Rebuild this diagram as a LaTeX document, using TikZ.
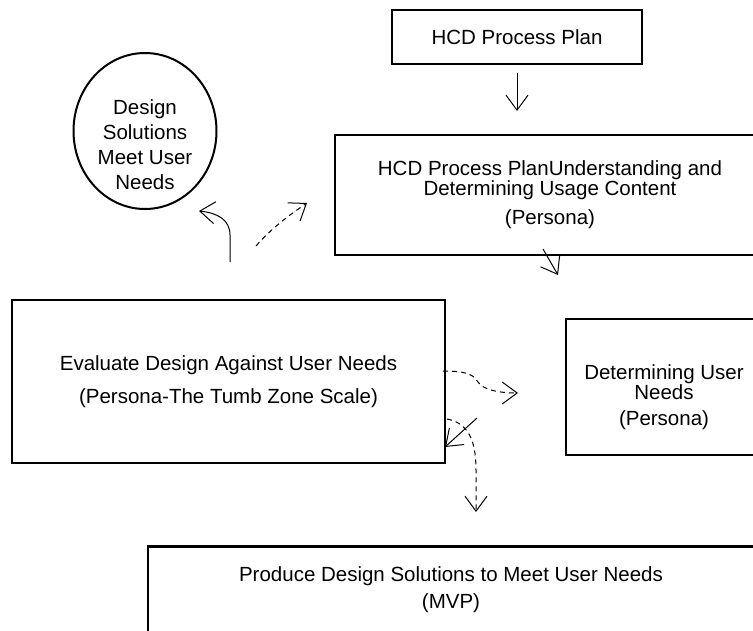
\documentclass[tikz,border=0pt]{standalone}
\usepackage{fontspec}
\setmainfont{Liberation Sans}
\usetikzlibrary{arrows.meta,calc,positioning,shapes.geometric}
\tikzset{
    box/.style={draw, line width=2.5pt, rectangle, align=center,
        font=\fontsize{20.5}{20}\selectfont}, % process boxes
    goal/.style={draw, line width=2pt, ellipse}, % end state
    label text/.style={align=center, font=\fontsize{20.5}{20}\selectfont},
    flow/.style={line width=1pt, -{Straight Barb[length=15pt,width=22pt]}},
    dflow/.style={flow, dash pattern=on 5pt off 4pt},
}

\begin{document}
\begin{tikzpicture}[x=1pt,y=-1pt]
        \useasboundingbox (0,0) rectangle (753,630);
        \clip (0,0) rectangle (753,630);
        % boxes
        \node[box, minimum width=250pt, minimum height=54pt] (plan) at (517,37) {HCD Process Plan};
        \node[box, minimum width=430pt, minimum height=120pt] (usage) at (550,195)
            {HCD Process PlanUnderstanding and\\Determining Usage Content\\[9pt](Persona)};
        \node[box, minimum width=433pt, minimum height=163pt] (eval) at (228.5,381.5)
            {Evaluate Design Against User Needs\\[13pt](Persona-The Tumb Zone Scale)};
        \node[box, minimum width=196pt, minimum height=136pt] (needs) at (664,387) {};
        \node[label text] (needstext) at (664,397) {Determining User\\Needs\\[6pt](Persona)};
        \node[box, anchor=north, minimum width=606pt, inner ysep=20pt] (mvp) at (451,545)
            {Produce Design Solutions to Meet User Needs\\[7pt](MVP)};
        \node[goal, minimum width=143pt, minimum height=156pt] (done) at (145,131) {};
        \node[label text, font=\fontsize{20.5}{25}\selectfont] (donetext) at (145,145)
            {Design\\Solutions\\Meet User\\Needs};
        % loose arrow ends
        \coordinate (p1) at (517,73);   \coordinate (p2) at (517,111);
        \coordinate (u1) at (543,249);  \coordinate (u2) at (558,275);
        \coordinate (b1) at (230,262);  \coordinate (b2) at (199,211);
        \coordinate (c1) at (256,246);  \coordinate (c2) at (307,203);
        \coordinate (e1) at (443,371);  \coordinate (e2) at (518,393);
        \coordinate (f1) at (477,418);  \coordinate (f2) at (445,447);
        \coordinate (g1) at (447,419);  \coordinate (g2) at (476,512);
        % connectors
        \draw[flow] (p1) -- (p2);
        \draw[flow] (u1) -- (u2);
        \draw[flow] (b1) -- ++(0,-27) .. controls +(0,-15) and (218,213) .. (b2);
        \draw[dflow] (c1) .. controls (270,230) and (285,218) .. (c2);
        \draw[dflow] (e1) .. controls (470,371) and (474,376) .. (478,382)
            .. controls (483,390) and (500,393) .. (e2);
        \draw[flow] (f1) -- (f2);
        \draw[dflow] (g1) .. controls (468,423) and (476,440) .. (476,470) -- (g2);
\end{tikzpicture}
\end{document}
